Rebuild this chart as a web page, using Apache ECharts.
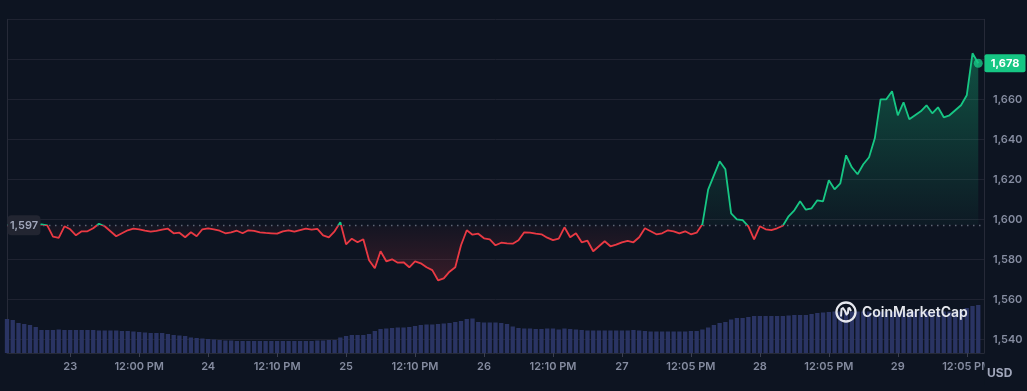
<!DOCTYPE html>
<html><head><meta charset="utf-8">
<script src="https://cdn.jsdelivr.net/npm/echarts@6/dist/echarts.min.js"></script>
<style>html,body{margin:0;padding:0;background:#0d1421;overflow:hidden}#c{width:1027px;height:391px}</style>
</head><body><div id="c"></div>
<script>
// ---- data ----
const tickLabels = ['23','12:00 PM','24','12:10 PM','25','12:10 PM','26','12:10 PM','27','12:05 PM','28','12:05 PM','29','12:05 PM'];
const prices = [
1597,1597,1596.5,1597,1596.5,1597,1597.5,1597,1591.3,1590.7,
1596.5,1595,1592,1594,1594,1595.5,1597.8,1596.5,1594,1591.5,
1593,1594.5,1595.3,1595,1594.3,1593.8,1594.2,1594.8,1595.3,1593,
1593.3,1591,1593.5,1591.5,1595,1595.5,1595,1594.3,1593,1593.5,
1594.3,1593,1594.5,1594.2,1593.5,1593.2,1593,1592.8,1594,1594.5,
1593.8,1594.6,1595.3,1594.8,1595.2,1592,1591,1594,1598.5,1587.5,
1590.3,1588.5,1590,1579.5,1575.5,1584,1579,1580,1578.3,1578.5,
1576,1579,1578,1576,1574.6,1569.5,1570.5,1573.8,1576,1587,
1594.5,1592.3,1592.8,1590.5,1590,1587,1588.3,1588,1587.8,1589.5,
1593.5,1593.3,1592.8,1592.5,1590.8,1589.6,1590.3,1596,1591,1593,
1588.5,1589.3,1584,1586.5,1589,1586.5,1587.3,1588.5,1589.2,1588.5,
1591,1595.5,1594,1592.5,1593,1594.5,1594,1593,1594,1592.5,
1593.3,1597.5,1614.8,1622,1629,1625,1603,1600,1599.6,1596.5,
1590,1596.5,1595,1594.6,1595.5,1596.8,1601.5,1604.5,1609,1604.8,
1605.5,1609.5,1609,1619.5,1615,1618,1632,1626,1622.5,1627.5,
1631,1640.5,1660,1660,1664,1652,1658.5,1650,1652,1654,
1657,1653,1656,1651,1652,1654.5,1657,1662,1683,1678
];
const volumes = [
34,33,30,29,28,26,23,23,23,23.5,
23,23,23,23,23,23,22.5,22.5,22.5,22.5,
22,22,21.5,21,20.5,20,20,20,19,18,
17.5,17,15.5,15,14.5,14,13.5,13,12.5,12.5,
12,12,12,12,12,12,12,12,12,12,
12,12,12,12,12.5,12.5,13,13,15.5,17,
18,18,18,19,22,24,24.5,25,25.5,25.5,
26,27,28,28.5,28.5,29,29.5,30,31,32,
34,34.5,31,30.5,30.5,30.5,30,29,26.5,25,
24.5,24.5,24,24,24.5,24.5,23.5,24.5,24,23.5,
23,22.5,22.5,22.5,22.5,22.5,22.5,22.5,22.5,23,
22.5,22,21.5,21.5,21.5,21.5,21.5,21.5,21.5,22,
22,23.5,25.5,28,30,31,33.5,35,35,36,
37,37,37,37,37,37,37.5,38,38,38,
39,40,40.5,41,41.5,41.5,41.5,41.5,41.5,41.5,
41.5,41.5,41.5,41.5,41.5,41.5,41.5,41.5,41.5,41.5,
41.5,41.5,41.5,41.5,41.5,41.5,43,45,47,48
];
const baseline = 1597;
const priceMin = 1540, priceMax = 1700, priceStep = 20;
const currency = 'USD';
const brand = 'CoinMarketCap';

// ---- layout constants ----
const FIRST_LABEL = 11, LABEL_STEP = 12, SLOTS = 171;
const GREEN = '#16c784', RED = '#ea3943', BG = '#0d1421';
const GRID_C = '#1f2331', AXIS_C = '#262a38', LABEL_C = '#858ca0';
const FONT = 'Inter, "Noto Sans", sans-serif';

const categories = Array.from({length: SLOTS}, (_, i) => String(i));
const labelAt = {};
tickLabels.forEach((t, k) => { labelAt[FIRST_LABEL + LABEL_STEP * k] = t; });
const showTick = (i) => labelAt[i] !== undefined;
const fmt = (v) => Number(v).toLocaleString('en-US');

const chart = echarts.init(document.getElementById('c'), null, {renderer: 'canvas'});
const lastIdx = prices.length - 1;

const option = {
  backgroundColor: BG,
  animation: false,
  grid: [
    {left: 7, right: 43, top: 19.3, bottom: 51.7},
    {left: 7, right: 43, top: 303, bottom: 38}
  ],
  xAxis: [
    {type: 'category', gridIndex: 0, data: categories, boundaryGap: false, show: false},
    {type: 'category', gridIndex: 1, data: categories, boundaryGap: false,
      axisLine: {show: true, lineStyle: {color: AXIS_C, width: 1}},
      axisTick: {show: true, interval: showTick, length: 4, lineStyle: {color: '#3a3f50'}},
      axisLabel: {interval: showTick, formatter: (v, i) => labelAt[i] || '', color: LABEL_C,
        fontSize: 11, fontWeight: 600, fontFamily: FONT, margin: 8}
    }
  ],
  yAxis: [
    {type: 'value', gridIndex: 0, position: 'right', min: priceMin, max: priceMax, interval: priceStep,
      axisLine: {show: true, lineStyle: {color: AXIS_C}}, axisTick: {show: false},
      splitLine: {show: true, lineStyle: {color: GRID_C, width: 1}},
      axisLabel: {formatter: fmt, color: LABEL_C, fontSize: 11, fontWeight: 600, fontFamily: FONT, margin: 9, showMaxLabel: false}
    },
    {type: 'value', gridIndex: 0, position: 'left', min: priceMin, max: priceMax,
      axisLine: {show: true, lineStyle: {color: AXIS_C}}, axisTick: {show: false}, axisLabel: {show: false}, splitLine: {show: false}},
    {type: 'value', gridIndex: 1, position: 'right', min: 0, max: 50,
      axisLine: {show: true, lineStyle: {color: AXIS_C}}, axisTick: {show: false}, axisLabel: {show: false}, splitLine: {show: false}},
    {type: 'value', gridIndex: 1, position: 'left', min: 0, max: 50,
      axisLine: {show: true, lineStyle: {color: AXIS_C}}, axisTick: {show: false}, axisLabel: {show: false}, splitLine: {show: false}}
  ],
  series: [
    {type: 'bar', xAxisIndex: 1, yAxisIndex: 2, data: volumes, barWidth: '75%',
      itemStyle: {color: '#2a3463'}, silent: true, z: 1},
    {type: 'line', xAxisIndex: 0, yAxisIndex: 0, data: prices, showSymbol: false, smooth: false,
      lineStyle: {width: 1.8, color: RED}, z: 3,
      markLine: {silent: true, symbol: 'none', label: {show: false},
        lineStyle: {color: '#5d6474', type: [1.5, 4.5], width: 1.4},
        data: [{yAxis: baseline}]}
    },
    {type: 'scatter', xAxisIndex: 0, yAxisIndex: 0, data: [[lastIdx, prices[lastIdx]]],
      symbolSize: 9, itemStyle: {color: GREEN}, z: 5, silent: true}
  ]
};
chart.setOption(option);

// colours split at the baseline, positioned through the axis scale
const pY = (v) => chart.convertToPixel({yAxisIndex: 0}, v);
const pX = (i) => chart.convertToPixel({xAxisIndex: 0}, i);
const topPx = pY(Math.max(...prices)) - 2, botPx = pY(Math.min(...prices)) + 2, basePx = pY(baseline);
const off = (basePx - topPx) / (botPx - topPx);
const areaGrad = new echarts.graphic.LinearGradient(0, topPx, 0, botPx, [
  {offset: 0, color: 'rgba(22,199,132,0.34)'},
  {offset: off, color: 'rgba(22,199,132,0.03)'},
  {offset: off, color: 'rgba(234,57,67,0.03)'},
  {offset: 1, color: 'rgba(234,57,67,0.2)'}
], true);
const lineGrad = new echarts.graphic.LinearGradient(0, topPx, 0, botPx, [
  {offset: 0, color: GREEN},
  {offset: off, color: GREEN},
  {offset: off, color: RED},
  {offset: 1, color: RED}
], true);

const gridLeft = pX(0);
const gridRight = chart.getWidth() - 43;
const lastY = pY(prices[lastIdx]);
const axisBottom = chart.getHeight() - 38;

chart.setOption({
  series: [{}, {lineStyle: {width: 1.8, color: lineGrad}, areaStyle: {origin: baseline, color: areaGrad, opacity: 1}}, {}],
  graphic: [
    {type: 'rect', z: 100, zlevel: 0, shape: {x: gridRight + 0.5, y: axisBottom + 2, width: 60, height: 30}, style: {fill: BG}},
    {type: 'rect', z: 100, shape: {x: gridLeft + 0.5, y: basePx - 10, width: 33, height: 20, r: 4}, style: {fill: '#222531'}},
    {type: 'text', z: 101, x: gridLeft + 17, y: basePx + 0.5, style: {text: fmt(baseline), fill: '#a1a7bb', font: '600 11px ' + FONT, align: 'center', verticalAlign: 'middle'}},
    {type: 'rect', z: 100, shape: {x: gridRight + 0.5, y: lastY - 9, width: 41, height: 18, r: 2}, style: {fill: GREEN}},
    {type: 'text', z: 101, x: gridRight + 21, y: lastY + 0.5, style: {text: fmt(Math.round(prices[lastIdx])), fill: '#ffffff', font: '700 11px ' + FONT, align: 'center', verticalAlign: 'middle'}},
    {type: 'text', z: 101, x: gridRight + 3, y: axisBottom + 20, style: {text: currency, fill: '#a1a7bb', font: '700 12px ' + FONT, align: 'left', verticalAlign: 'middle'}},
    {type: 'group', z: 60, x: 846, y: 312, children: [
      {type: 'circle', z: 60, shape: {cx: 0, cy: 0, r: 9.5}, style: {fill: 'none', stroke: '#e6e8ee', lineWidth: 2.3}},
      {type: 'polyline', z: 60, shape: {points: [[-5, 4.5], [-4.5, -3], [-3, -4], [-1, -1], [0.5, 2.5], [2, 1], [2.3, -3.5], [3.5, -4], [5, -1]]}, style: {fill: 'none', stroke: '#e6e8ee', lineWidth: 2, lineJoin: 'round'}}
    ]},
    {type: 'text', z: 60, x: 862, y: 313, style: {text: brand, fill: '#e6e8ee', font: '600 14px ' + FONT, align: 'left', verticalAlign: 'middle'}}
  ]
});
</script>
</body></html>
